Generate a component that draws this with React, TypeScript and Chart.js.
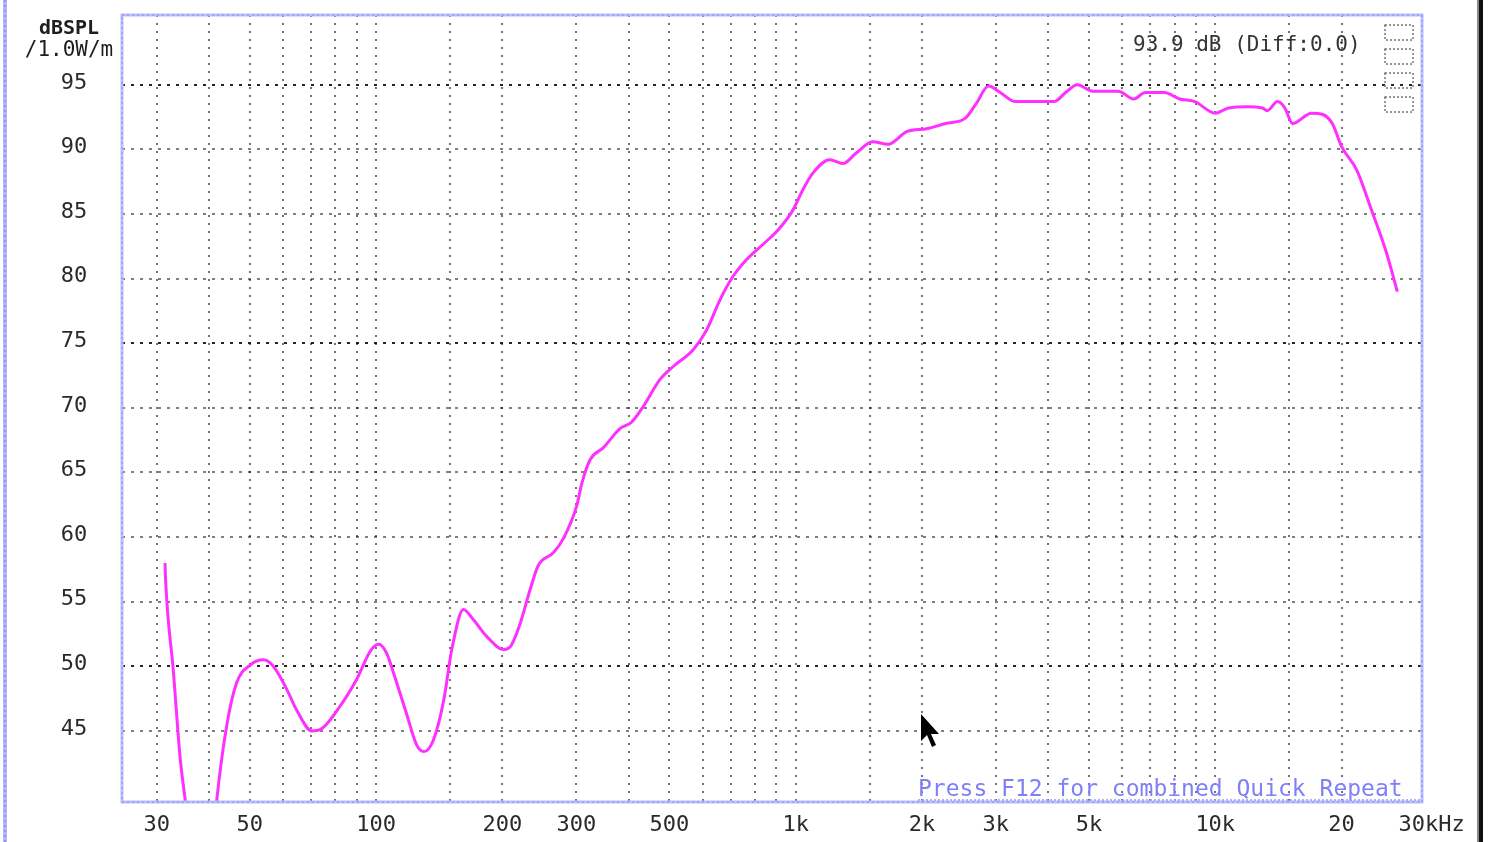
import React, { useEffect, useRef } from "react";
import { Chart, registerables } from "chart.js";

Chart.register(...registerables);

// ---- data ----
const freqs = [
  31.4, 31.5, 32.9, 34.1, 35.1, 36.5, 40.5, 41.7, 44.0, 46.5, 50.1, 53.9, 56.9,
  61.3, 64.7, 70.3, 73.6, 82.0, 89.9, 97, 101.5, 106, 110, 118, 125, 130, 137, 145,
  151.5, 161.5, 170.6, 183.7, 201, 208.6, 220.4, 232.7, 243.5, 264.8, 279.6,
  300.6, 309.5, 323.9, 347.6, 381.3, 406.5, 433.2, 475, 510.7, 570, 613, 661,
  710, 765, 839, 910, 985, 1041, 1101, 1206, 1296, 1392, 1525, 1660, 1845,
  2051, 2279, 2534, 2700, 2880, 3073, 3341, 3632, 4128, 4400, 4690, 5108,
  5873, 6392, 6812, 7563, 8224, 8940, 10010, 10750, 11920, 12950, 13300,
  14070, 14660, 15280, 16960, 18040, 19010, 20020, 21740, 23580, 25590, 27160,
];
const spl = [
  58.0, 56.7, 49.5, 43.0, 39.6, 35.0, 35.0, 39.6, 45.3, 48.7, 50.1, 50.5, 50.0,
  48.2, 46.6, 45.0, 45.1, 46.9, 49.0, 51.2, 51.7, 51.0, 49.5, 46.4, 43.9, 43.4, 44.3,
  47.4, 51.3, 54.4, 53.6, 52.3, 51.3, 51.5, 53.3, 55.9, 57.8, 58.8, 59.9, 62.4,
  64.2, 66.0, 66.9, 68.4, 68.9, 70.1, 72.2, 73.2, 74.5, 76.0, 78.4, 80.2, 81.5,
  82.7, 83.8, 85.3, 86.9, 88.2, 89.2, 88.9, 89.7, 90.6, 90.4, 91.4, 91.6, 92.0,
  92.4, 93.6, 94.9, 94.4, 93.7, 93.7, 93.7, 94.4, 95.0, 94.5, 94.5, 93.9, 94.4,
  94.4, 93.9, 93.7, 92.8, 93.2, 93.3, 93.2, 93.0, 93.7, 93.2, 92.0, 92.8, 92.7,
  92.0, 90.2, 88.4, 85.3, 82.0, 79.0,
];

const xGridValues = [
  30, 40, 50, 60, 70, 80, 90, 100, 150, 200, 300, 400, 500, 600, 700, 800, 900,
  1000, 1500, 2000, 3000, 4000, 5000, 6000, 7000, 8000, 9000, 10000, 15000, 20000,
];
const xLabelValues = [30, 50, 100, 200, 300, 500, 1000, 2000, 3000, 5000, 10000, 20000, 30000];
const xLabelTexts = ["30", "50", "100", "200", "300", "500", "1k", "2k", "3k", "5k", "10k", "20", "30kHz"];
const yTickValues = [95, 90, 85, 80, 75, 70, 65, 60, 55, 50, 45];
const yTickLabels = ["95", "90", "85", "80", "75", "70", "65", "60", "55", "50", "45"];
const yHeavyValues = [95, 75, 50];
const yTitleLines = ["dBSPL", "/1.0W/m"];
const readoutText = "93.9 dB (Diff:0.0)";
const footerText = "Press F12 for combined Quick Repeat";

const FONT = '"DejaVu Sans Mono", "Liberation Mono", monospace';

const decorPlugin = {
  id: "decor",
  beforeDraw(chart: any) {
    const { ctx, width, height } = chart;
    ctx.save();
    ctx.fillStyle = "#ffffff";
    ctx.fillRect(0, 0, width, height);
    ctx.restore();
  },
  afterDraw(chart: any) {
    const { ctx, chartArea, scales } = chart;
    const xs = scales.x;
    const ys = scales.y;
    ctx.save();

    // left edge stripe
    ctx.strokeStyle = "#b4b6fa";
    ctx.lineWidth = 4;
    ctx.beginPath();
    ctx.moveTo(5, 0);
    ctx.lineTo(5, chart.height);
    ctx.stroke();
    ctx.strokeStyle = "#8f93f5";
    ctx.lineWidth = 2;
    ctx.setLineDash([2, 3]);
    ctx.beginPath();
    ctx.moveTo(5, 0);
    ctx.lineTo(5, chart.height);
    ctx.stroke();
    ctx.setLineDash([]);

    // right black bar
    ctx.fillStyle = "#888";
    ctx.fillRect(1477, 0, 2, chart.height);
    ctx.fillStyle = "#111";
    ctx.fillRect(1479, 0, 4, chart.height);

    // plot frame
    const l = chartArea.left, t = chartArea.top, r = chartArea.right, b = chartArea.bottom;
    ctx.strokeStyle = "#babdfd";
    ctx.lineWidth = 3;
    ctx.strokeRect(l, t, r - l, b - t);
    ctx.strokeStyle = "#9599f7";
    ctx.lineWidth = 1.5;
    ctx.setLineDash([2, 3]);
    ctx.strokeRect(l, t, r - l, b - t);
    ctx.setLineDash([]);

    // y title
    ctx.fillStyle = "#1e1e1e";
    ctx.textAlign = "center";
    ctx.textBaseline = "middle";
    ctx.font = `bold 20px ${FONT}`;
    ctx.fillText(yTitleLines[0], 69, 29);
    ctx.font = `21px ${FONT}`;
    ctx.fillText(yTitleLines[1], 69, 51);

    // y tick labels
    ctx.font = `22px ${FONT}`;
    ctx.fillStyle = "#2a2a2a";
    yTickValues.forEach((v, i) => {
      ctx.fillText(yTickLabels[i], 74, ys.getPixelForValue(v) - 2);
    });

    // x tick labels
    xLabelValues.forEach((v, i) => {
      const px = xs.getPixelForValue(v);
      if (i === xLabelValues.length - 1) {
        ctx.textAlign = "left";
        ctx.fillText(xLabelTexts[i], px - 17, 825);
        ctx.textAlign = "center";
      } else {
        ctx.fillText(xLabelTexts[i], px, 825);
      }
    });

    // readout text
    ctx.font = `21px ${FONT}`;
    ctx.fillStyle = "#333";
    ctx.textAlign = "left";
    ctx.fillText(readoutText, 1133, 46);

    // small icons top-right
    ctx.strokeStyle = "#777";
    ctx.lineWidth = 1.5;
    ctx.setLineDash([2, 2]);
    [25, 49, 73, 97].forEach((yy) => {
      ctx.strokeRect(1385, yy, 28, 15);
    });
    ctx.setLineDash([]);

    // footer hint
    ctx.font = `23px ${FONT}`;
    ctx.fillStyle = "#7f7ff7";
    ctx.textAlign = "left";
    ctx.fillText(footerText, 918, 790);
    ctx.strokeStyle = "#9a9af8";
    ctx.lineWidth = 1.5;
    ctx.setLineDash([2, 2]);
    ctx.beginPath();
    ctx.moveTo(918, 800);
    ctx.lineTo(1420, 800);
    ctx.stroke();
    ctx.setLineDash([]);

    // mouse pointer
    ctx.fillStyle = "#000";
    ctx.beginPath();
    ctx.moveTo(921, 714);
    ctx.lineTo(921, 741);
    ctx.lineTo(927, 735);
    ctx.lineTo(932, 747);
    ctx.lineTo(936, 745);
    ctx.lineTo(931, 734);
    ctx.lineTo(939, 734);
    ctx.closePath();
    ctx.fill();

    ctx.restore();
  },
};

export default function App() {
  const canvasRef = useRef<HTMLCanvasElement | null>(null);

  useEffect(() => {
    const canvas = canvasRef.current;
    if (!canvas) return;
    const points = freqs.map((f, i) => ({ x: f, y: spl[i] }));
    const chart = new Chart(canvas, {
      type: "line",
      data: {
        datasets: [
          {
            data: points,
            borderColor: "#ff30ff",
            borderWidth: 3,
            pointRadius: 0,
            cubicInterpolationMode: "monotone",
            fill: false,
          },
        ],
      },
      options: {
        animation: false,
        responsive: false,
        devicePixelRatio: 1,
        layout: { padding: { left: 122, top: 15, right: 67, bottom: 40 } },
        plugins: { legend: { display: false }, tooltip: { enabled: false } },
        scales: {
          x: {
            type: "logarithmic",
            min: 24.8,
            max: 31100,
            afterBuildTicks: (s: any) => {
              s.ticks = xGridValues.map((v) => ({ value: v }));
            },
            afterFit: (s: any) => {
              s.height = 0;
            },
            ticks: { display: false },
            grid: { color: "rgba(0,0,0,0.55)", lineWidth: 2, drawTicks: false },
            border: { display: false, dash: [2, 6] },
          },
          y: {
            type: "linear",
            min: 39.5,
            max: 100.4,
            afterBuildTicks: (s: any) => {
              s.ticks = yTickValues.map((v) => ({ value: v }));
            },
            afterFit: (s: any) => {
              s.width = 0;
            },
            ticks: { display: false },
            grid: {
              color: (c: any) =>
                c.tick && yHeavyValues.includes(c.tick.value) ? "rgba(0,0,0,0.85)" : "rgba(0,0,0,0.5)",
              lineWidth: 2,
              drawTicks: false,
            },
            border: { display: false, dash: [3, 6] },
          },
        },
      },
      plugins: [decorPlugin],
    });
    return () => chart.destroy();
  }, []);

  return (
    <div style={{ position: "fixed", left: 0, top: 0, width: 1489, height: 842, background: "#fff" }}>
      <canvas ref={canvasRef} width={1489} height={842} style={{ display: "block", width: 1489, height: 842 }} />
    </div>
  );
}
